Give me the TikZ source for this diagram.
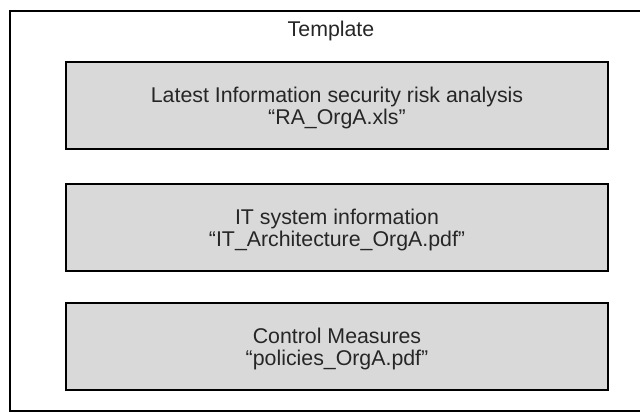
\documentclass[tikz,border=0pt]{standalone}
\usepackage{fontspec}
\setmainfont{Liberation Sans}
\begin{document}
\begin{tikzpicture}[x=0.75pt, y=-0.75pt,
	txt/.style={font=\fontsize{16pt}{16.2pt}\selectfont, text=black!85, align=center},
	infobox/.style={txt, draw, line width=1.7pt, fill=black!15, minimum width=406.5pt, minimum height=65.5pt, inner sep=0pt, text depth=0pt}]
	\useasboundingbox (0,0) rectangle (640,413);
	\draw[line width=1.5pt](645, 11) -- (10, 11) -- (10, 411) -- (645, 411);%Rahmen
	\node[txt] (title) at (331, 31) {Template};
	\node[infobox] (risk) at (337, 105.5) {Latest Information security risk analysis\\“RA\_OrgA.xls”};
	\node[infobox] (itsys) at (337, 227.5) {IT system information\\“IT\_Architecture\_OrgA.pdf”};
	\node[infobox] (ctrl) at (337, 346.5) {Control Measures\\“policies\_OrgA.pdf”};
	\end{tikzpicture}
\end{document}
